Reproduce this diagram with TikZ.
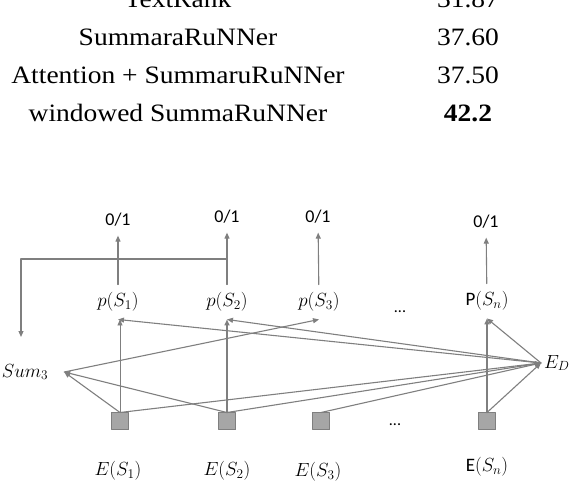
\RequirePackage{fix-cm}
\documentclass[tikz,border=0pt]{standalone}
\usepackage{amsmath}
\usepackage{fontspec}
\setmainfont{Liberation Serif}
\newfontfamily\tablefont[FakeStretch=1.1]{Liberation Serif}
\newfontfamily\calibri{Carlito}
\usetikzlibrary{arrows.meta,calc}
\definecolor{NetInk}{HTML}{7F7F7F}
\definecolor{NetBox}{HTML}{A6A6A6}
\tikzset{
    net/diagram/.style={
        x=1pt, y=-1pt,
        line cap=round,
        line join=round,
        every node/.style={inner sep=0pt, outer sep=0pt}
    },
    net/table/.style={anchor=base, font=\tablefont\fontsize{25}{30}\selectfont},
    net/wire/.style={draw=NetInk, line width=1.1pt},
    net/link/.style={
        draw=NetInk, line width=1.1pt,
        -{Triangle[length=6pt, width=5pt]}
    },
    net/thin/.style={net/link, line width=0.8pt},
    net/bold/.style={net/link, line width=1.6pt},
    net/embed/.style={
        rectangle, fill=NetBox, draw=NetInk, line width=1.4pt,
        minimum size=17pt
    },
    net/prob/.style={font=\fontsize{19}{22}\selectfont, outer ysep=8pt},
    net/out/.style={font=\calibri\fontsize{18}{21}\selectfont, outer sep=9pt},
    net/label/.style={font=\fontsize{19}{22}\selectfont},
    net/dots/.style={anchor=base, font=\calibri\fontsize{16}{19}\selectfont}
}

\begin{document}
\begin{tikzpicture}[net/diagram]
    \useasboundingbox (0,0) rectangle (574,482);
    \clip (0,0) rectangle (574,482);
    % results table
    \node[net/table] (m0) at (178,7) {TextRank};
    \node[net/table] (v0) at (468,7) {31.87};
    \node[net/table] (m1) at (178,45) {SummaraRuNNer};
    \node[net/table] (v1) at (468,45) {37.60};
    \node[net/table] (m2) at (178,83) {Attention + SummaruRuNNer};
    \node[net/table] (v2) at (468,83) {37.50};
    \node[net/table] (m3) at (178,121) {windowed SummaRuNNer};
    \node[net/table] (v3) at (468,121) {\textbf{42.2}};

    % outputs
    \node[net/out] (o1) at (118,220) {0/1};
    \node[net/out] (o2) at (227,217) {0/1};
    \node[net/out] (o3) at (318,217) {0/1};
    \node[net/out] (on) at (486,222) {0/1};
    % probabilities
    \node[net/prob] (p1) at (118,302) {$p(S_1)$};
    \node[net/prob] (p2) at (227,302) {$p(S_2)$};
    \node[net/prob] (p3) at (319,302) {$p(S_3)$};
    \node[net/prob] (pn) at (487,301) {{\calibri P}$(S_n)$};
    \node[net/dots] (dp) at (400,312) {...};
    % sentence embeddings
    \node[net/embed] (e1) at (120,421) {};
    \node[net/embed] (e2) at (227,421) {};
    \node[net/embed] (e3) at (321,421) {};
    \node[net/embed] (en) at (487,421) {};
    \node[net/dots] (de) at (395,425) {...};
    \node[net/label] (l1) at (118,471) {$E(S_1)$};
    \node[net/label] (l2) at (227,471) {$E(S_2)$};
    \node[net/label] (l3) at (318,472) {$E(S_3)$};
    \node[net/label] (ln) at (487,467) {{\calibri E}$(S_n)$};
    % summary and document
    \node[net/label, outer xsep=16pt] (sum) at (25,372) {$Sum_3$};
    \node[net/label, anchor=west, inner xsep=3pt] (ed) at (541,363) {$E_D$};
    \coordinate (fork) at (227,259);
    \coordinate (drop) at (21,337);

    \foreach \i in {1,2,3,n}
        \draw[net/link] (p\i) -- (o\i);
    \draw[net/link] (fork) -| (drop);

    \draw[net/thin] (e1.north) -- (e1.north |- p1.south);
    \draw[net/bold] (e2.north) -- (e2.north |- p2.south);
    \draw[net/bold] (en.north) -- (en.north |- pn.south);

    \draw[net/link] (e1.north) -- (sum.east);
    \draw[net/link] (e2.north) -- (sum.east);
    \draw[net/link] (sum.east) -- (p3.south);

    \foreach \i in {1,2,3,n}
        \draw[net/link] (e\i.north) -- (ed.west);
    \foreach \i in {1,2,n}
        \draw[net/link] (ed.west) -- (p\i.south);
\end{tikzpicture}
\end{document}
